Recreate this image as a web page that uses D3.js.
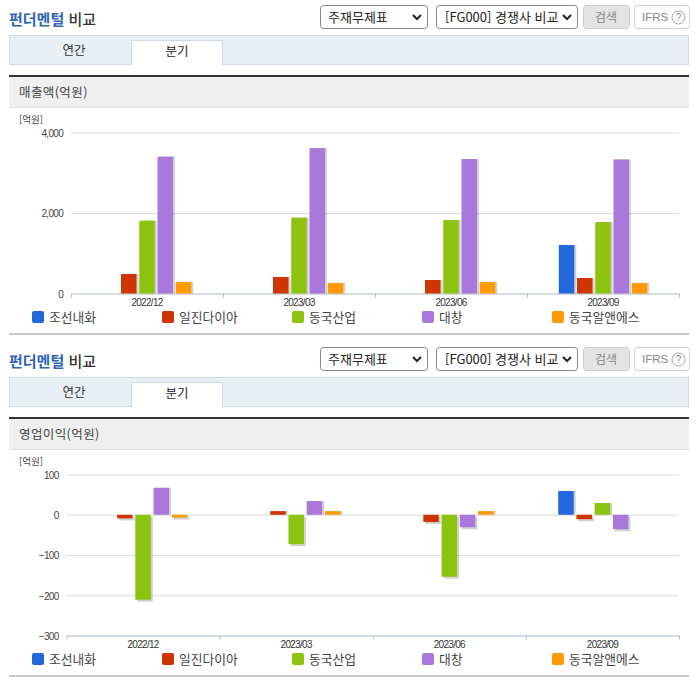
<!DOCTYPE html>
<html lang="ko">

<head>
  <meta charset="UTF-8">
  <script src="https://d3js.org/d3.v7.min.js"></script>
  <title>펀더멘털 비교</title>
  <style>
    body {
      margin: 0;
      background: #fff;
    }

    svg {
      display: block;
      font-family: "Noto Sans CJK KR", sans-serif;
    }

    .tick-label {
      font-family: "Liberation Sans", Arial, sans-serif;
      font-size: 10px;
      letter-spacing: -0.7px;
      fill: #444;
    }
  </style>
</head>

<body>
  <div id="chart"></div>
  <script>
    const quarters = ["2022/12", "2023/03", "2023/06", "2023/09"];
    const companies = ["조선내화", "일진다이아", "동국산업", "대창", "동국알앤에스"];
    const colors = ["#2268dc", "#cf3503", "#8cc30e", "#a978da", "#ff9a05"];

    // 매출액 (억원)
    const salesJoseon = [null, null, null, 1205];
    const salesIljin = [485, 410, 335, 385];
    const salesDongkuk = [1810, 1885, 1825, 1775];
    const salesDaechang = [3400, 3610, 3340, 3330];
    const salesRns = [285, 260, 285, 260];
    const salesTicks = [0, 2000, 4000];

    // 영업이익 (억원)
    const profitJoseon = [null, null, null, 59];
    const profitIljin = [-9, 9, -18, -11];
    const profitDongkuk = [-211, -73, -154, 29];
    const profitDaechang = [67, 34, -31, -36];
    const profitRns = [-7, 9, 9, null];
    const profitTicks = [-300, -200, -100, 0, 100];

    const svg = d3.select("#chart")
      .append("svg")
      .attr("width", 696)
      .attr("height", 684);

    // header, tabs and title band of one panel
    function drawFrame(g, title) {
      const heading = g.append("text").attr("x", 9).attr("y", 25)
        .style("font-size", "15px").style("font-weight", 700);
      heading.append("tspan").attr("fill", "#2f63b5").text("펀더멘털");
      heading.append("tspan").attr("fill", "#333").attr("font-weight", 500).text(" 비교");

      const box = (x, w, fill, stroke) => g.append("rect")
        .attr("x", x + 0.5).attr("y", 5.5).attr("width", w).attr("height", 23).attr("rx", 3)
        .attr("fill", fill).attr("stroke", stroke);
      const label = (x, text, color, size) => g.append("text")
        .attr("x", x).attr("y", 21.5).attr("fill", color)
        .style("font-size", size).text(text);
      const chevron = x => g.append("path")
        .attr("d", `M${x},15 l4,4 l4,-4`)
        .attr("fill", "none").attr("stroke", "#222").attr("stroke-width", 2);

      box(320, 107, "#fff", "#888");
      label(328, "주재무제표", "#222", "13px");
      chevron(413);
      box(436, 141, "#fff", "#888");
      label(445, "[FG000] 경쟁사 비교", "#222", "13px");
      chevron(563);
      box(583, 46, "#e4e4e4", "#ccc");
      label(595, "검색", "#888", "12px");
      box(634, 55, "#fff", "#ccc");
      g.append("text").attr("x", 642).attr("y", 21).attr("fill", "#888")
        .style("font-size", "11.5px").style("font-family", "Liberation Sans, Arial, sans-serif").text("IFRS");
      g.append("circle").attr("cx", 678.5).attr("cy", 17.5).attr("r", 6.5)
        .attr("fill", "#fff").attr("stroke", "#aaa");
      g.append("text").attr("x", 678.5).attr("y", 21).attr("text-anchor", "middle").attr("fill", "#888")
        .style("font-size", "10px").style("font-family", "Liberation Sans, Arial, sans-serif").text("?");

      // tab bar
      g.append("rect").attr("x", 9.5).attr("y", 35.5).attr("width", 679).attr("height", 29)
        .attr("fill", "#e8eff7").attr("stroke", "#d0dae4");
      g.append("path").attr("d", "M131.5,65 V40.5 H222.5 V65")
        .attr("fill", "#fff").attr("stroke", "#d0dae4");
      g.append("text").attr("x", 74).attr("y", 55).attr("text-anchor", "middle").attr("fill", "#333")
        .style("font-size", "12.5px").text("연간");
      g.append("text").attr("x", 177).attr("y", 56).attr("text-anchor", "middle").attr("fill", "#222")
        .style("font-size", "12.5px").text("분기");

      // title band
      g.append("rect").attr("x", 9).attr("y", 75).attr("width", 680).attr("height", 32).attr("fill", "#efefef");
      g.append("rect").attr("x", 9).attr("y", 75).attr("width", 680).attr("height", 2).attr("fill", "#333");
      g.append("rect").attr("x", 9).attr("y", 107).attr("width", 680).attr("height", 1).attr("fill", "#e0e0e0");
      g.append("text").attr("x", 19).attr("y", 96.5).attr("fill", "#444")
        .style("font-size", "12.5px").style("letter-spacing", "0.4px").text(title);

      // unit
      g.append("text").attr("x", 19).attr("y", 123).attr("fill", "#444")
        .style("font-size", "9.5px").text("[억원]");
    }

    function drawBars(g, seriesList, ticks, opts) {
      const x = d3.scaleBand().domain(quarters).range([opts.left, 679]);
      const seriesBand = d3.scaleBand().domain(companies)
        .range([x.bandwidth() / 2 - 45.6, x.bandwidth() / 2 + 45.6])
        .paddingInner(0.15).paddingOuter(0.075);
      const y = d3.scaleLinear().domain(opts.domain).range(opts.yRange);

      // grid and value labels
      const yAxis = g.append("g")
        .attr("transform", `translate(${opts.left},0)`)
        .call(d3.axisLeft(y).tickValues(ticks).tickSize(-(679 - opts.left)).tickPadding(opts.pad)
          .tickFormat(d3.format(",")));
      yAxis.select(".domain").remove();
      yAxis.selectAll("line").attr("stroke", "#ddd");
      yAxis.selectAll("text").attr("class", "tick-label").attr("dy", "0.38em");

      // category labels
      const xAxis = g.append("g")
        .attr("transform", `translate(0,${opts.yRange[0]})`)
        .call(d3.axisBottom(x).tickSize(0).tickPadding(opts.labelPad));
      xAxis.select(".domain").attr("stroke", "#bccbd8");
      xAxis.selectAll("text").attr("class", "tick-label").style("fill", "#333");

      // group separators
      const edges = quarters.map(q => x(q)).concat(679);
      g.append("g").selectAll("line")
        .data(edges)
        .enter()
        .append("line")
        .attr("x1", d => d + 0.5).attr("x2", d => d + 0.5)
        .attr("y1", opts.yRange[0]).attr("y2", opts.yRange[0] + 4)
        .attr("stroke", "#bbb");

      const cells = seriesList.flatMap((values, s) =>
        values.map((v, q) => ({ company: companies[s], color: colors[s], quarter: quarters[q], value: v })))
        .filter(d => d.value !== null);
      const barX = d => x(d.quarter) + seriesBand(d.company);
      const barY = d => Math.min(y(d.value), y(0));
      const barH = d => Math.abs(y(d.value) - y(0));

      // soft bar shadow, then the bars
      g.append("g").selectAll("rect")
        .data(cells)
        .enter()
        .append("rect")
        .attr("x", d => barX(d) + 2)
        .attr("y", d => barY(d) + (d.value < 0 ? 2 : 0))
        .attr("width", seriesBand.bandwidth())
        .attr("height", barH)
        .attr("fill", "#999")
        .attr("opacity", 0.45);

      g.append("g").selectAll("rect")
        .data(cells)
        .enter()
        .append("rect")
        .attr("x", barX)
        .attr("y", barY)
        .attr("width", seriesBand.bandwidth())
        .attr("height", barH)
        .attr("fill", d => d.color);
    }

    function drawLegend(g) {
      const legendX = d3.scalePoint().domain(companies).range([32, 552]);
      const item = g.append("g").selectAll("g")
        .data(companies)
        .enter()
        .append("g")
        .attr("transform", d => `translate(${legendX(d)},311)`);
      item.append("rect")
        .attr("width", 12).attr("height", 12).attr("rx", 2)
        .attr("fill", (d, i) => colors[i]);
      item.append("text")
        .attr("x", 17).attr("y", 11).attr("fill", "#444")
        .style("font-size", "12.8px")
        .text(d => d);
      g.append("rect").attr("x", 9).attr("y", 333).attr("width", 680).attr("height", 2).attr("fill", "#c8c8c8");
    }

    const sales = svg.append("g");
    drawFrame(sales, "매출액(억원)");
    drawBars(sales, [salesJoseon, salesIljin, salesDongkuk, salesDaechang, salesRns], salesTicks,
      { left: 71, domain: [0, 4000], yRange: [293.5, 132.5], pad: 8, labelPad: 5 });
    drawLegend(sales);

    const profit = svg.append("g").attr("transform", "translate(0,342)");
    drawFrame(profit, "영업이익(억원)");
    drawBars(profit, [profitJoseon, profitIljin, profitDongkuk, profitDaechang, profitRns], profitTicks,
      { left: 66.5, domain: [-300, 100], yRange: [293.5, 132.5], pad: 8, labelPad: 5 });
    drawLegend(profit);
  </script>
</body>

</html>
